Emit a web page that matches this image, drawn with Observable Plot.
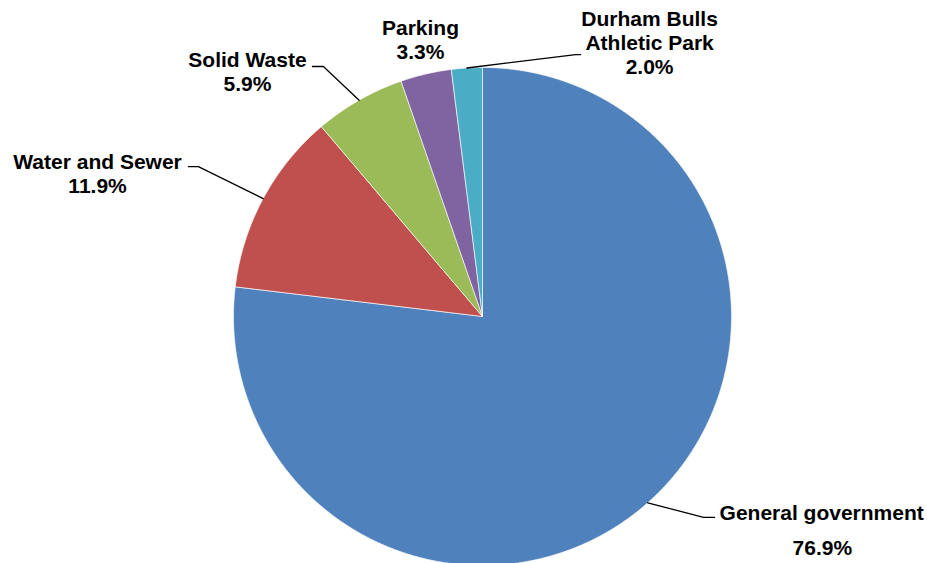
<!DOCTYPE html>
<html>
<head>
<meta charset="utf-8">
<script src="https://cdn.jsdelivr.net/npm/d3@7"></script>
<script src="https://cdn.jsdelivr.net/npm/@observablehq/plot@0.6"></script>
<style>
  html, body { margin: 0; padding: 0; background: #fff; }
  #chart svg { display: block; }
</style>
</head>
<body>
<div id="chart"></div>
<script>
// ---- data ----
const categories = ["General government", "Water and Sewer", "Solid Waste", "Parking", "Durham Bulls Athletic Park"];
const shares = [76.9, 11.9, 5.9, 3.3, 2.0];
const labelText = ["General government", "Water and Sewer", "Solid Waste", "Parking", "Durham Bulls\nAthletic Park"];
const colors = ["#4F81BD", "#C0504D", "#9BBB59", "#8064A2", "#4BACC6"];

// ---- layout (in pie-radius units, centre = 0,0) ----
const W = 927, H = 563, CX = 482, CY = 316, R = 249;
const labelLayout = [
  {name: "General government", x: 0.952, y: -0.787, anchor: "start", pctX: 1.365, pctY: -0.928, elbow: [0.888, -0.807], end: [0.932, -0.807]},
  {name: "Water and Sewer", x: -1.546, y: 0.576, anchor: "middle", elbow: [-1.141, 0.602], end: [-1.181, 0.602]},
  {name: "Solid Waste", x: -0.944, y: 0.986, anchor: "middle", elbow: [-0.639, 1.004], end: [-0.683, 1.004]},
  {name: "Parking", x: -0.249, y: 1.112, anchor: "middle"},
  {name: "Durham Bulls Athletic Park", x: 0.671, y: 1.100, anchor: "middle", elbow: [0.374, 1.052], end: [0.394, 1.052]}
];

// ---- pie geometry from data ----
const pie = d3.pie().sort(null).value(d => d)(shares);
const slicePts = [];
const mids = [];
pie.forEach((p, i) => {
  const name = categories[i];
  slicePts.push({name, x: 0, y: 0});
  const n = Math.max(4, Math.ceil((p.endAngle - p.startAngle) / 0.005));
  for (let k = 0; k <= n; k++) {
    const a = p.startAngle + (p.endAngle - p.startAngle) * k / n;
    slicePts.push({name, x: Math.sin(a), y: Math.cos(a)});
  }
  slicePts.push({name, x: 0, y: 0});
  const m = (p.startAngle + p.endAngle) / 2;
  mids.push({x: Math.sin(m), y: Math.cos(m)});
});

const leaderPts = [];
const texts = [];
labelLayout.forEach(L => {
  const i = categories.indexOf(L.name);
  if (L.elbow) {
    leaderPts.push({k: L.name, x: mids[i].x, y: mids[i].y});
    leaderPts.push({k: L.name, x: L.elbow[0], y: L.elbow[1]});
    leaderPts.push({k: L.name, x: L.end[0], y: L.end[1]});
  }
  const pct = shares[i].toFixed(1) + "%";
  if (L.pctX !== undefined) {
    texts.push({x: L.x, y: L.y, t: labelText[i], anchor: L.anchor});
    texts.push({x: L.pctX, y: L.pctY, t: pct, anchor: "middle"});
  } else {
    texts.push({x: L.x, y: L.y, t: labelText[i] + "\n" + pct, anchor: L.anchor});
  }
});

const textStyle = {x: "x", y: "y", text: "t", lineAnchor: "middle", lineHeight: 1.15, fontSize: 21, fontWeight: "bold", fill: "#000"};

const chart = Plot.plot({
  width: W,
  height: H,
  margin: 0,
  x: {domain: [-CX / R, (W - CX) / R], axis: null},
  y: {domain: [-(H - CY) / R, CY / R], axis: null},
  color: {domain: categories, range: colors},
  style: {background: "#fff", fontFamily: "'Liberation Sans', Arial, sans-serif"},
  marks: [
    Plot.line(slicePts, {x: "x", y: "y", z: "name", fill: "name", stroke: "#fff", strokeWidth: 0.8, strokeOpacity: 0.8}),
    Plot.line(leaderPts, {x: "x", y: "y", z: "k", stroke: "#000", strokeWidth: 1.3}),
    Plot.text(texts.filter(d => d.anchor === "middle"), {...textStyle, textAnchor: "middle"}),
    Plot.text(texts.filter(d => d.anchor === "start"), {...textStyle, textAnchor: "start"})
  ]
});
document.getElementById("chart").appendChild(chart);
</script>
</body>
</html>
